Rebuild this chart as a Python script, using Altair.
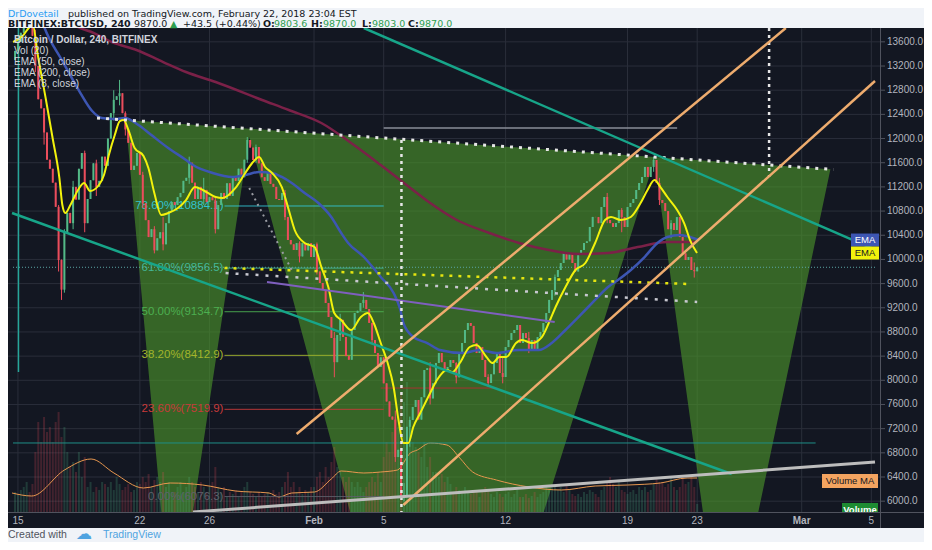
import altair as alt
import pandas as pd

# ---------------- values ----------------
# x = days since 15 Jan 2018 00:00 (4-hour candles, 6 per day); y = price in USD
X_TICKS = [0, 7, 11, 17, 21, 28, 35, 39, 45, 49]
X_LABELS = ["15", "22", "26", "Feb", "5", "12", "19", "23", "Mar", "5"]
X_BOLD = ["Feb", "Mar"]
Y_TICKS = list(range(6000, 13601, 400))

first_open = 13300
closes = [13450,
    13600, 13750, 13900, 14000, 13900, 13700,
    13200, 12650, 12500, 12100, 11650, 11500,
    11270, 10870, 9990, 9500, 10450, 10770,
    10600, 11200, 10990, 11500, 11760, 10600,
    11000, 11310, 11590, 11200, 11300, 11700,
    11550, 12000, 12420, 12640, 12700, 12750,
    12420, 12150, 11930, 11480, 11550, 11760,
    11400, 10930, 10650, 10370, 10500, 10150,
    10350, 10450, 10250, 10600, 10800, 10950,
    10900, 11030, 11100, 11300, 11350, 11600,
    11270, 11000, 11200, 11000, 11150, 10950,
    11030, 10980, 10500, 10900, 11100, 11000,
    11260, 11050, 11360, 11300, 11500, 11360,
    11650, 11976, 11850, 11645, 11860, 11590,
    11360, 11300, 11430, 11250, 11200, 11000,
    10983, 11100, 10700, 10321, 10250, 10156,
    10270, 10050, 10270, 10150, 10270, 10040,
    10250, 9800, 9610, 9494, 9279, 9047,
    8700, 8300, 8750, 9000, 8716, 8400,
    8340, 8832, 9113, 9150, 9279, 9330,
    9180, 8950, 8666, 8451, 8220, 8380,
    7950, 7650, 7400, 7350, 6730, 6850,
    6070, 6100, 7230, 7343, 7559, 7674,
    7350, 7720, 8170, 8200, 7700, 7950,
    8286, 8451, 8300, 8170, 8220, 8336,
    8286, 8050, 8451, 8617, 8832, 8948,
    8900, 8617, 8451, 8550, 8336, 8054,
    7955, 8100, 8286, 8451, 8120, 8054,
    8550, 8666, 8782, 8832, 8915, 8617,
    8782, 8700, 8501, 8666, 8501, 8716,
    8800, 8948, 9113, 9330, 9494, 9710,
    9825, 9941, 10106, 10000, 10106, 9941,
    9800, 10080, 10156, 10272, 10300, 10537,
    10703, 10700, 10600, 10867, 11033, 10652,
    10600, 10537, 10602, 10818, 10700, 10537,
    10867, 10933, 11000, 11149, 11264, 11364,
    11530, 11364, 11530, 11645, 11264, 10983,
    10933, 10800, 10500, 10600, 10487, 10700,
    10370, 10100, 9990, 10040, 9825, 9803.6,
    9870]

wick_bar = [6, 9, 14, 15, 16, 19, 23, 27, 33, 35, 37, 43, 47, 50, 59, 64, 68, 79, 82, 92,
            97, 103, 109, 111, 119, 122, 130, 133, 135, 142, 151, 162, 167, 176, 185, 203, 208, 219, 221, 225, 233]
wick_high = [13800, 12300, 10900, 10000, 10500, 11300, 11800, 11650, 12800, 12970, 12450, 11450, 10550, 10700, 11700,
             11350, 11050, 12025, 11900, 11150, 10300, 10280, 8800, 9100, 9460, 8950, 7500, 6300, 7400, 8300,
             8300, 8100, 8400, 8800, 9750, 11100, 10850, 11700, 11350, 10650, 9950]
wick_low = [13100, 11900, 9800, 9330, 9450, 10500, 10450, 11050, 12300, 12550, 12050, 10850, 10100, 10150, 11250,
            10900, 10430, 11600, 11600, 10650, 9950, 9750, 8050, 8650, 9200, 8600, 6650, 6000, 6900, 7600,
            7950, 7890, 7950, 8450, 9400, 10600, 10450, 11450, 10900, 10350, 9700]

# volume in thousand BTC
volumes = [4.0,
    3.6, 4.4, 5.0, 6.0, 4.0, 5.6,
    12, 18, 14, 19, 16, 17,
    14, 18, 20, 15, 17, 12,
    9, 10, 8, 12, 7, 11,
    5, 6, 4, 5, 4.4, 6,
    5.6, 5, 6, 4.4, 7, 5.6,
    4.4, 5, 5.6, 4, 4.4, 6,
    5.6, 7, 6, 7.6, 5, 6.4,
    7, 6, 8, 5, 6, 4,
    4, 5, 6, 4, 5, 7,
    6, 5, 4, 6, 5, 4,
    5, 6, 9, 5, 4, 5,
    3, 4, 3.6, 4.4, 3, 4,
    5, 6, 4, 3.6, 3, 4,
    3, 3.6, 4, 3, 4.4, 3.6,
    4, 5, 6, 8, 5, 6,
    4, 5, 3.6, 4.4, 4, 5,
    5, 7, 8, 6, 9, 7,
    10, 13, 9, 8, 7, 6,
    7, 6, 5, 6, 5, 4,
    5, 6, 7, 6, 8, 6,
    11, 14, 12, 16, 19, 17,
    24, 22, 26, 18, 14, 13,
    12, 11, 14, 9, 11, 8,
    8, 7, 7.6, 6, 7, 5.6,
    4, 5, 4.4, 3.6, 5, 4,
    3.6, 4.4, 4, 3, 4, 5,
    4.4, 3.6, 3, 4, 3.6, 3,
    3.6, 4, 3, 3.6, 4.4, 3,
    3, 3.6, 2.8, 3.2, 4, 3,
    3.6, 4, 5, 4.4, 5.6, 5,
    4.4, 5, 4, 5.6, 4.4, 3.6,
    3.2, 3.6, 3, 4, 3.6, 4.4,
    4, 3.6, 3, 4.4, 5, 6,
    7, 5.6, 5, 6, 4.4, 4,
    3.6, 4, 4.4, 3.6, 5, 4.4,
    5, 4, 4.4, 5.6, 7, 6,
    6, 5, 5.6, 7, 5, 4.4,
    5, 7, 5.6, 6, 7, 5,
    1.6]

vma_d = [-0.34, 0.79, 2.67, 4.20, 5.51, 7.21, 8.74, 10.61, 12.49, 14.42, 14.98, 15.72, 17.03, 17.99, 18.56, 19.86,
         20.83, 21.79, 22.53, 22.93, 23.67, 24.63, 25.37, 26.11, 27.47, 29.34, 31.21, 33.14, 35.02, 36.89, 38.42, 38.99]
vma_v = [3.8, 3.2, 8.4, 10.6, 7.8, 4.8, 5.8, 5.4, 4.2, 3.8, 3.0, 3.8, 4.0, 6.6, 8.2, 7.8,
         8.0, 8.4, 11.8, 12.4, 13.8, 13.4, 10.8, 8.0, 6.4, 5.0, 4.4, 5.2, 5.4, 5.8, 6.8, 6.8]

ema8_d = [-0.28, 0.28, 0.62, 0.85, 1.14, 1.59, 1.99, 2.38, 2.55, 2.72, 3.01, 3.52, 3.80, 4.14, 4.65, 4.94, 5.22, 5.56,
          5.85, 6.07, 6.36, 6.70, 7.21, 7.49, 7.83, 8.23, 8.63, 9.19, 9.65, 10.16, 10.61, 11.35, 11.75, 12.49, 13.05,
          13.45, 13.85, 14.19, 14.59, 15.15, 15.55, 15.89, 16.46, 17.03, 17.42, 17.82, 18.16, 18.56, 19.13, 19.69,
          20.09, 20.43, 20.83, 21.23, 21.57, 21.85, 22.13, 22.42, 22.70, 23.10, 23.67, 24.06, 24.63, 24.97, 25.37,
          25.94, 26.33, 26.90, 27.24, 27.64, 28.04, 28.60, 28.94, 29.51, 30.08, 30.48, 30.87, 31.44, 32.01, 32.58,
          33.14, 33.71, 34.05, 34.62, 35.19, 35.75, 36.15, 36.55, 36.89, 37.29, 37.85, 38.25, 38.59, 38.99]
ema8_p = [13597, 13700, 13830, 13880, 13382, 12671, 12009, 11347, 10900, 10768, 10900, 11182, 11264, 11132, 11231,
          11397, 11728, 12058, 12290, 12307, 12125, 11843, 11711, 11512, 11099, 10735, 10768, 10851, 10983, 11198,
          11149, 11033, 11016, 11182, 11430, 11595, 11695, 11529, 11430, 11198, 10818, 10487, 10272, 10205, 9875,
          9544, 9113, 8997, 8832, 9047, 9113, 8948, 8617, 8286, 7889, 7343, 6963, 6963, 7227, 7459, 7790, 8005,
          8170, 8137, 8286, 8551, 8584, 8385, 8286, 8385, 8385, 8617, 8667, 8617, 8716, 8948, 9213, 9544, 9825,
          9941, 10272, 10652, 10702, 10652, 10702, 10933, 11149, 11314, 11198, 11033, 10818, 10602, 10321, 10106]

ema50_d = [1.2, 1.53, 2.55, 3.52, 4.26, 4.82, 5.56, 6.13, 6.92, 7.66, 8.63, 9.65, 10.05, 11.18, 12.31, 13.05, 13.85,
           14.59, 15.15, 15.72, 16.46, 17.25, 17.99, 18.56, 18.96, 19.86, 20.83, 21.57, 21.96, 22.13, 22.70, 23.50,
           24.23, 25.54, 26.50, 27.47, 28.77, 29.91, 30.65, 31.44, 32.18, 33.14, 33.88, 34.45, 35.19, 35.98, 36.72,
           37.29, 38.02, 38.59, 39.10]
ema50_p = [14100, 13829, 13283, 12786, 12456, 12340, 12323, 12340, 12224, 12058, 11843, 11645, 11562, 11430, 11364,
           11397, 11446, 11430, 11364, 11264, 11099, 10933, 10702, 10437, 10272, 10040, 9709, 9444, 9163, 8948, 8716,
           8617, 8501, 8451, 8501, 8451, 8501, 8501, 8617, 8832, 9047, 9329, 9544, 9659, 9825, 10040, 10272, 10371,
           10404, 10371, 10321]

ema200_d = [2.9, 3.23, 4.37, 5.39, 6.81, 8.34, 9.65, 11.35, 14.02, 15.55, 17.42, 19.13, 20.83, 22.53, 23.67, 25.20,
            27.07, 28.77, 30.48, 32.18, 33.88, 35.58, 37.29, 38.99]
ema200_p = [13950, 13878, 13746, 13597, 13465, 13266, 13101, 12935, 12638, 12472, 12257, 11926, 11562, 11182, 10933,
            10652, 10437, 10272, 10156, 10090, 10106, 10205, 10288, 10288]

# green "W" zone: top edge and lower zig-zag edge
poly_d = [6.19, 8.23, 10.05, 13.28, 19.07, 30.19, 36.55, 39.33, 42.51, 46.65]
poly_top = [12307, 12265, 12229, 12164, 12047, 11823, 11694, 11638, 11575, 11491]
poly_bot = [12307, 5821, 5821, 12025, 5821, 5821, 11645, 5821, 5821, 11491]

# Fibonacci retracement
fib_pct = ["78.60%", "61.80%", "50.00%", "38.20%", "23.60%", "0.00%"]
fib_val = [10884.1, 9856.5, 9134.7, 8412.9, 7519.9, 6076.3]
fib_from, fib_to = 11.86, 21.0

# drawn segments: (day0, price0, day1, price1)
seg_top_dotted = (4.54, 12340, 46.82, 11488)
seg_diag_dotted = (13.28, 11182, 15.72, 9825)
seg_yellow_dotted = (11.86, 9858, 38.59, 9593)
seg_white_dotted = (11.92, 9775, 39.0, 9296)
seg_purple = (14.30, 9627, 30.82, 8965)
seg_vert1 = (22.02, 11976, 22.02, 5821)
seg_vert2 = (43.13, 13829, 43.13, 11364)
seg_gray_h = (21.0, 12174, 37.85, 12174)
seg_teal1 = (-0.34, 10768, 40.98, 6450)
seg_teal2 = (19.86, 13829, 49.21, 10162)
seg_orange1 = (16.0, 7111, 44.09, 13829)
seg_orange2 = (22.13, 5937, 49.21, 12952)
seg_support = (10.05, 5821, 49.21, 6648)
seg_teal_h = (-0.284, 6963, 45.8, 6963)
seg_red_h = (20.83, 7872, 27.53, 7872)
seg_teal_v = (0.03, 13829, 0.03, 8137)
last_price = 9870.0

# ---------------- build ----------------
FONT = "Liberation Sans"
HFONT = "DejaVu Sans"
BG = "#131722"
GRID = "#2a2e3a"
BORDER = "#50535e"
AXTXT = "#b2b5be"
UP, DOWN = "#53b987", "#eb4d5c"
W, H = 872, 484
XS = alt.Scale(domain=[-0.284, 49.21], nice=False, zero=False)
YS = alt.Scale(domain=[5821, 13829], nice=False, zero=False)
VS = alt.Scale(domain=[0, 96.8], nice=False, zero=True)

wick = {b: (h, l) for b, h, l in zip(wick_bar, wick_high, wick_low)}
rows = []
prev = first_open
n = min(len(closes), len(volumes))
for k in range(n):
    i = k - 1
    c = closes[k]
    o = prev
    hi, lo = max(o, c), min(o, c)
    if i in wick:
        hi = max(hi, wick[i][0])
        lo = min(lo, wick[i][1])
    rows.append({"d": i / 6, "o": o, "c": c, "h": hi, "l": lo, "v": volumes[k],
                 "dir": "up" if c >= o else "down"})
    prev = c
candles = pd.DataFrame(rows)


def X(f="d"):
    return alt.X(f"{f}:Q", scale=XS, axis=None)


def Y(f="p"):
    return alt.Y(f"{f}:Q", scale=YS, axis=None)


DIRCOL = alt.Color("dir:N", scale=alt.Scale(domain=["up", "down"], range=[UP, DOWN]), legend=None)


def rule(seg, color, width, dash=None, opacity=1.0):
    d0, p0, d1, p1 = seg
    df = pd.DataFrame({"d": [d0], "p": [p0], "d2": [d1], "p2": [p1]})
    kw = dict(color=color, strokeWidth=width, opacity=opacity, clip=True)
    if dash:
        kw["strokeDash"] = dash
    return alt.Chart(df).mark_rule(**kw).encode(x=X("d"), y=Y("p"), x2=alt.X2("d2"), y2=alt.Y2("p2"))


def series(ds, ps, color, width, interp="monotone"):
    df = pd.DataFrame(list(zip(ds, ps)), columns=["d", "p"])
    return alt.Chart(df).mark_line(color=color, strokeWidth=width, clip=True, interpolate=interp).encode(
        x=X("d"), y=Y("p"))


def ptext(s, x, y, color, size=10, weight="normal", align="left", clip=False, font=FONT):
    return alt.Chart(pd.DataFrame({"t": [s]})).mark_text(
        align=align, baseline="middle", color=color, fontSize=size, fontWeight=weight, font=font, clip=clip
    ).encode(x=alt.value(x), y=alt.value(y), text=alt.Text("t:N"))


def prect(x0, x1, y0, y1, color):
    return alt.Chart(pd.DataFrame({"a": [0]})).mark_rect(color=color).encode(
        x=alt.value(x0), x2=alt.value(x1), y=alt.value(y0), y2=alt.value(y1))


bg = prect(0, 916, 0, 500, BG)
vgrid = alt.Chart(pd.DataFrame({"d": X_TICKS})).mark_rule(color=GRID, strokeWidth=1).encode(x=X("d"))
hgrid = alt.Chart(pd.DataFrame({"p": Y_TICKS})).mark_rule(color=GRID, strokeWidth=1).encode(y=Y("p"))
poly = pd.DataFrame({"d": poly_d, "top": poly_top, "bot": poly_bot})
green = alt.Chart(poly).mark_area(color="#4c962a", opacity=0.62, clip=True, interpolate="linear").encode(
    x=X("d"), y=Y("top"), y2=alt.Y2("bot"))
under = alt.layer(bg, vgrid, hgrid, green)

vol_bars = alt.Chart(candles).mark_bar(size=2, opacity=0.22, clip=True).encode(
    x=X("d"), y=alt.Y("v:Q", scale=VS, axis=None), color=DIRCOL)
vol_ma = alt.Chart(pd.DataFrame({"d": vma_d, "v": vma_v})).mark_line(
    color="#e8974f", strokeWidth=1, clip=True, interpolate="monotone").encode(
    x=X("d"), y=alt.Y("v:Q", scale=VS, axis=None))
vol = alt.layer(vol_bars, vol_ma)

over = []
# fib retracement
fib_colors = ["#33c3cf", "#43b796", "#4caf50", "#a3b52b", "#c93a3a", "#5d616c"]
for pct, val, col in zip(fib_pct, fib_val, fib_colors):
    over.append(rule((fib_from, val, fib_to, val), col, 1, opacity=0.9))
    df = pd.DataFrame({"d": [11.8], "p": [val], "t": [f"{pct}({val:.1f})"]})
    over.append(alt.Chart(df).mark_text(align="right", baseline="middle", color=col, fontSize=11.5, font=FONT,
                                        clip=True).encode(x=X("d"), y=Y("p"), text="t:N"))
over.append(rule(seg_teal_h, "#1f8f86", 1))
over.append(rule(seg_red_h, "#a83232", 1))
over.append(rule((-0.284, last_price, 49.21, last_price), "#5aa6a6", 1, dash=[1, 2]))
over.append(rule(seg_teal_v, "#26a69a", 1.5))
# candles
over.append(alt.Chart(candles).mark_rule(strokeWidth=1, clip=True).encode(
    x=X("d"), y=Y("l"), y2=alt.Y2("h"), color=DIRCOL))
over.append(alt.Chart(candles).mark_bar(size=2, clip=True).encode(
    x=X("d"), y=Y("o"), y2=alt.Y2("c"), color=DIRCOL))
# moving averages
over.append(series(ema200_d, ema200_p, "#7b2148", 2.5))
over.append(series(ema50_d, ema50_p, "#3d56b3", 2.5))
over.append(series(ema8_d, ema8_p, "#f2f20c", 2))
# drawings
over.append(rule(seg_gray_h, "#8a8e99", 1.5))
over.append(rule(seg_purple, "#7f5fbf", 2))
over.append(rule(seg_yellow_dotted, "#e5e510", 2.5, dash=[3, 6]))
over.append(rule(seg_white_dotted, "#c8c8d0", 2.5, dash=[3, 7]))
over.append(rule(seg_diag_dotted, "#9a9ca3", 2, dash=[2, 4]))
over.append(rule(seg_top_dotted, "#e6e6e6", 3, dash=[3, 6]))
over.append(rule(seg_vert1, "#e6e6e6", 2.5, dash=[3, 4]))
over.append(rule(seg_vert2, "#e6e6e6", 2.5, dash=[3, 4]))
over.append(rule(seg_teal1, "#17a589", 2.5))
over.append(rule(seg_teal2, "#17a589", 2.5))
over.append(rule(seg_orange1, "#eeac6e", 2.5))
over.append(rule(seg_orange2, "#eeac6e", 2.5))
over.append(rule(seg_support, "#bdbdbd", 3))

# price-scale tags at the last EMA values
box = "M-1,-0.464L1,-0.464L1,0.464L-1,0.464Z"
for val, fill, ink in [(ema50_p[-1], "#3d56b3", "#ffffff"), (ema8_p[-1], "#f2f20c", "#131722")]:
    df = pd.DataFrame({"p": [val], "t": ["EMA"]})
    over.append(alt.Chart(df).mark_point(shape=box, size=784, filled=True, opacity=1, color=fill,
                                         strokeWidth=0).encode(x=alt.value(857), y=Y("p")))
    over.append(alt.Chart(df).mark_text(fontSize=9.5, font=FONT, baseline="middle", color=ink).encode(
        x=alt.value(857), y=Y("p"), text="t:N"))
over.append(alt.Chart(pd.DataFrame({"a": [0]})).mark_point(
    shape="M-1,-0.25L1,-0.25L1,0.25L-1,0.25Z", size=3136, filled=True, opacity=1, color="#f4a460",
    strokeWidth=0).encode(x=alt.value(842), y=alt.value(453)))
over.append(ptext("Volume MA", 842, 453, "#131722", 9.5, align="center"))
over.append(prect(834, 870, 475, 484, "#1e8c32"))
over.append(ptext("Volume", 852, 482, "#ffffff", 9.5, weight="bold", align="center", clip=True))

# legend text in the pane
legend_lines = ["Bitcoin / Dollar, 240, BITFINEX", "Vol (20)", "EMA (50, close)", "EMA (200, close)", "EMA (8, close)"]
for j, s in enumerate(legend_lines):
    over.append(ptext(s, 6, 12 + 11 * j, "#d1d4dc", 10, weight="bold" if j == 0 else "normal"))

# axes (drawn as marks over the dark panel)
over.append(prect(872, 873, 0, 500, BORDER))
over.append(prect(0, 916, 484, 485, BORDER))
ytk = pd.DataFrame({"p": Y_TICKS, "t": [f"{v:.1f}" for v in Y_TICKS]})
over.append(alt.Chart(ytk).mark_rule(color=BORDER, strokeWidth=1).encode(
    x=alt.value(873), x2=alt.value(877), y=Y("p")))
over.append(alt.Chart(ytk).mark_text(align="left", baseline="middle", color=AXTXT, fontSize=10, font=FONT).encode(
    x=alt.value(879), y=Y("p"), text="t:N"))
xtk = pd.DataFrame({"d": X_TICKS, "t": X_LABELS})
xtk["b"] = xtk["t"].isin(X_BOLD)
for is_bold in (False, True):
    over.append(alt.Chart(xtk[xtk["b"] == is_bold]).mark_text(
        align="center", baseline="middle", color=AXTXT, fontSize=10, font=FONT,
        fontWeight="bold" if is_bold else "normal").encode(x=X("d"), y=alt.value(493), text="t:N"))

# header and footer
DARK, GREEN_T, BLUE_T = "#131722", "#2e9e4f", "#2a9df4"
over.append(ptext("DrDovetail", 0, -14, BLUE_T, 9.5, font=HFONT))
over.append(ptext("published on TradingView.com, February 22, 2018 23:04 EST", 60, -14, DARK, 9.5, font=HFONT))
header2 = [("BITFINEX:BTCUSD, 240", 0, DARK, "bold"), ("9870.0", 126, DARK, "normal"),
           ("\u25b2", 162, GREEN_T, "normal"), ("+43.5 (+0.44%)", 175, DARK, "normal"),
           ("O:", 255, DARK, "bold"), ("9803.6", 266, GREEN_T, "normal"),
           ("H:", 303, DARK, "bold"), ("9870.0", 315, GREEN_T, "normal"),
           ("L:", 354, DARK, "bold"), ("9803.0", 364, GREEN_T, "normal"),
           ("C:", 400, DARK, "bold"), ("9870.0", 411, GREEN_T, "normal")]
for s, x, col, wt in header2:
    over.append(ptext(s, x, -4, col, 9.5, weight=wt, font=HFONT))
over.append(ptext("Created with", 0, 507, "#50535e", 10.5))
over.append(ptext("\u2601", 68, 506, "#4fa3e0", 16, font="DejaVu Sans"))
over.append(ptext("TradingView", 95, 507, "#4fa3e0", 10.5))

chart = alt.layer(under, vol, alt.layer(*over)).resolve_scale(y="independent").properties(
    width=W, height=H,
    padding={"left": 0, "top": 20, "right": 44, "bottom": 30},
    autosize=alt.AutoSizeParams(type="none"),
    background="#f0f3f8",
).configure_view(stroke=None)

chart.save("out.html", embed_options={"renderer": "svg", "actions": False})
